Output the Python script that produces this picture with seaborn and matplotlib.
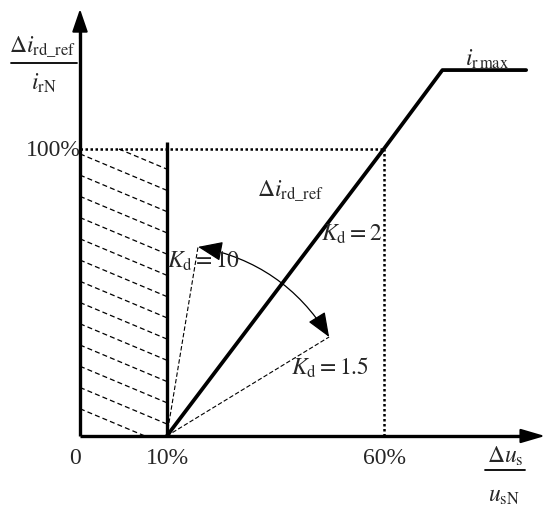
import numpy as np
import matplotlib
matplotlib.use("Agg")
import matplotlib.pyplot as plt
import seaborn as sns

# ---------------- data (schematic units) ----------------
x_ticks = [0, 20, 70]
x_tick_labels = ["0", "10%", "60%"]
y_tick = 100
y_tick_label = "100%"

kd2_x = [20, 70, 83.5, 102.8]
kd2_y = [0, 100, 127.5, 127.5]

kd10_x = [20, 27.2]
kd10_y = [0, 65.9]
kd15_x = [20, 57.4]
kd15_y = [0, 34.5]

limit_x = [20, 20]
limit_y = [0, 102.4]

hatch_left_y = [105.7, 98.3, 90.9, 83.5, 76.1, 68.7, 61.3, 53.9, 46.5, 39.1, 31.7, 24.3, 16.9, 9.5]
hatch_drop = 12.7  # drop across the 0..20 band

# ---------------- style ----------------
sns.set_theme(style="white")
plt.rcParams["font.family"] = ["Liberation Serif", "DejaVu Serif"]
plt.rcParams["mathtext.fontset"] = "stix"

W, H = 550, 510
fig = plt.figure(figsize=(W / 100, H / 100), dpi=100)
ax = fig.add_axes([0, 0, 1, 1])

X0, SX, Y0, SY = 80, 4.34, 437, 2.87
def dx(p):
    return (p - X0) / SX
def dy(p):
    return (Y0 - p) / SY

ax.set_xlim(dx(0), dx(W))
ax.set_ylim(dy(H), dy(0))
ax.axis("off")

FS = 17

# axes with arrows
ax.plot([0, 0], [0, dy(28)], color="black", lw=2.4, solid_capstyle="butt")
ax.plot([0, dx(525)], [0, 0], color="black", lw=2.4, solid_capstyle="butt")
ax.annotate("", xy=(0, dy(10)), xytext=(0, dy(40)),
            arrowprops=dict(arrowstyle="-|>,head_length=0.7,head_width=0.24",
                            mutation_scale=20, color="black", lw=1.5,
                            shrinkA=0, shrinkB=0))
ax.annotate("", xy=(dx(545), 0), xytext=(dx(510), 0),
            arrowprops=dict(arrowstyle="-|>,head_length=0.75,head_width=0.22",
                            mutation_scale=20, color="black", lw=1.5,
                            shrinkA=0, shrinkB=0))

# hatch lines in the 0..10% band
for yl in hatch_left_y:
    xs = np.array([0.0, x_ticks[1]])
    ys = np.array([yl, yl - hatch_drop])
    slope = -hatch_drop / x_ticks[1]
    if ys[0] > y_tick:
        xs[0] = (y_tick - yl) / slope
        ys[0] = y_tick
    if ys[1] < 0:
        xs[1] = (0 - yl) / slope
        ys[1] = 0
    ax.plot(xs, ys, color="black", lw=0.9, linestyle=(0, (4, 2.5)))

# dotted guides
ax.plot([0, x_ticks[2]], [y_tick, y_tick], color="black", lw=1.8, linestyle=(0, (1, 1)))
ax.plot([x_ticks[2], x_ticks[2]], [0, y_tick], color="black", lw=1.8, linestyle=(0, (1, 1)))

# limit line at 10%
ax.plot(limit_x, limit_y, color="black", lw=2.4, solid_capstyle="butt")

# Kd lines
sns.lineplot(x=kd2_x, y=kd2_y, ax=ax, color="black", lw=2.7, sort=False,
             estimator=None)
ax.plot(kd10_x, kd10_y, color="black", lw=0.8, linestyle=(0, (4, 2)))
ax.plot(kd15_x, kd15_y, color="black", lw=0.8, linestyle=(0, (4, 2)))

# arc with arrowheads
ax.annotate("", xy=(kd15_x[1], kd15_y[1]), xytext=(kd10_x[1], kd10_y[1]),
            arrowprops=dict(arrowstyle="<|-|>,head_length=0.95,head_width=0.38",
                            mutation_scale=16, color="black", lw=0.9,
                            shrinkA=0, shrinkB=0,
                            connectionstyle="arc3,rad=-0.22"))

# tick labels
for xt, lab in zip(x_ticks, x_tick_labels):
    ax.text(xt - (1.2 if xt == 0 else -0.2), dy(459), lab, ha="center", va="center", fontsize=FS)
ax.text(dx(81), y_tick, y_tick_label, ha="right", va="center", fontsize=FS)

# y-axis label fraction
ax.text(dx(42), dy(53), r"$\Delta i_{\mathrm{rd\_ref}}$", ha="center", va="baseline", fontsize=FS)
ax.plot([dx(11), dx(77)], [dy(64), dy(64)], color="black", lw=1.3)
ax.text(dx(44), dy(90), r"$i_{\mathrm{rN}}$", ha="center", va="baseline", fontsize=FS)

# x-axis label fraction
ax.text(dx(505), dy(463), r"$\Delta u_{\mathrm{s}}$", ha="center", va="baseline", fontsize=FS)
ax.plot([dx(485), dx(525)], [dy(471), dy(471)], color="black", lw=1.3)
ax.text(dx(504), dy(502), r"$u_{\mathrm{sN}}$", ha="center", va="baseline", fontsize=FS)

# annotations
ax.text(dx(465), dy(66), r"$i_{\mathrm{r\,max}}$", ha="left", va="baseline", fontsize=FS)
ax.text(dx(257), dy(197), r"$\Delta i_{\mathrm{rd\_ref}}$", ha="left", va="baseline", fontsize=FS)
ax.text(dx(321), dy(241), r"$K_{\mathrm{d}}=2$", ha="left", va="baseline", fontsize=FS)
ax.text(dx(167), dy(268), r"$K_{\mathrm{d}}=10$", ha="left", va="baseline", fontsize=FS)
ax.text(dx(291), dy(375), r"$K_{\mathrm{d}}=1.5$", ha="left", va="baseline", fontsize=FS)

fig.savefig("out.png", dpi=100)
